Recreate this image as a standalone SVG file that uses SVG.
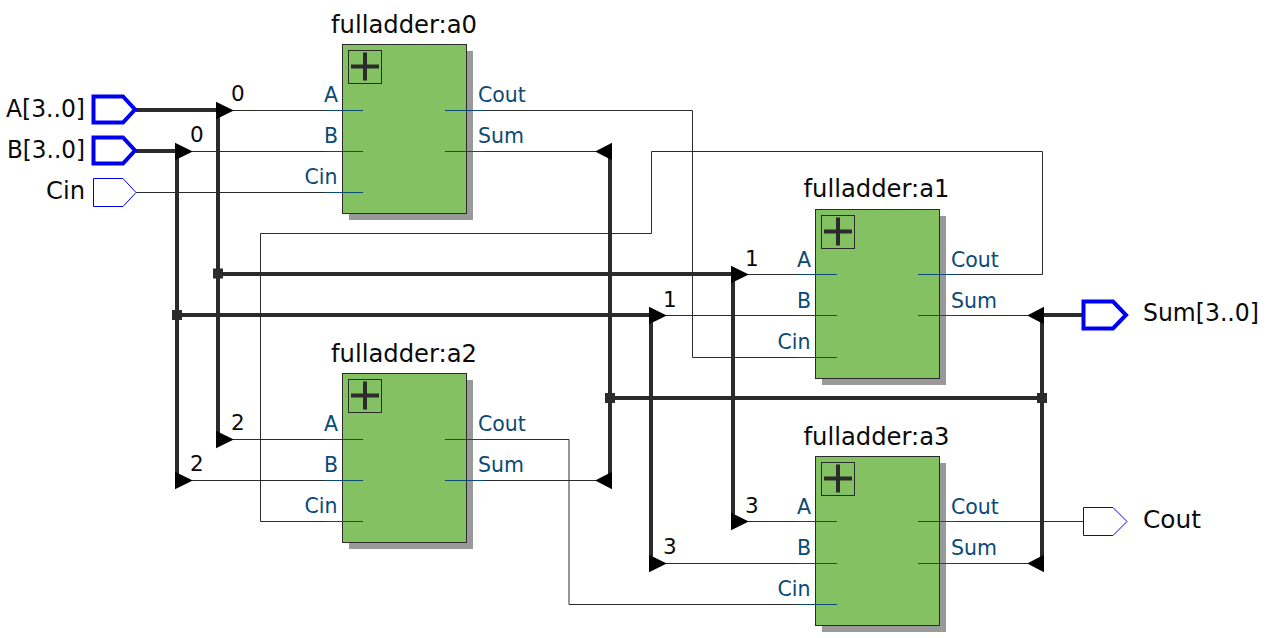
<svg xmlns="http://www.w3.org/2000/svg" width="1267" height="638" viewBox="0 0 1267 638">
<style>
text{font-family:"DejaVu Sans",sans-serif;font-size:21px;fill:#0a0a0a}
.t{font-size:24px}
.io{font-size:24px}
.e{text-anchor:end}
.p{font-size:20.500px;fill:#0b4a75}
.n{font-size:21.500px}
.b{fill:#84c163;stroke:#2b2b2b;stroke-width:1}
.s{fill:#999}
.i{fill:none;stroke:#2b2b2b;stroke-width:1}
.x{fill:#2b2b2b}
.pl{stroke:#0b4a75;stroke-width:1;fill:none}
.w{fill:none;stroke:#2b2b2b;stroke-width:1}
.h{fill:none;stroke:#2b2b2b;stroke-width:4}
.a{fill:#000}
.j{fill:#2b2b2b}
.pb{fill:#fff;stroke:#0000f0;stroke-width:4}
.pt{fill:#fff;stroke:#0000f0;stroke-width:1}
</style>
<defs>
<g id="blk">
<rect class="s" x="7" y="7" width="124" height="169"/>
<rect class="b" x="0.500" y="0.500" width="124" height="169"/>
<rect class="i" x="6.500" y="6.500" width="33" height="33"/>
<rect class="x" x="9" y="20.500" width="28" height="4"/>
<rect class="x" x="21" y="8.500" width="4" height="28"/>
</g>
<path id="ar" class="a" d="M-1-8.800L16.800 0L-1 8.800Z"/>
<path id="al" class="a" d="M0-8.800L-16.800 0L0 8.800Z"/>
</defs>
<g id="connectors">
<path class="w" d="M220 110.500H342M180 151.500H342M136 192.500H342"/>
<path class="w" d="M445 110.500H692.500V357.500H815M445 151.500H600"/>
<path class="w" d="M445 439.500H569V604.500H815M445 480.500H600M362 521.500H260.500V233.500H651.500V151.500H1042.500V274.500H918"/>
<path class="w" d="M735 274.500H815M655 315.500H815M918 315.500H1032"/>
<path class="w" d="M220 439.500H342M180 480.500H342M735 521.500H815M655 563.500H815"/>
<path class="w" d="M918 521.500H1084M918 563.500H1032"/>
<path class="h" d="M136 110H218M218 110V439M136 151H177M177 151V480"/>
<path class="h" d="M218 274H733M733 274V521M177 315H651M651 315V563"/>
<path class="h" d="M610 151V480M610 398H1042M1042 315V563M1042 315H1083"/>
<rect class="j" x="213" y="268.500" width="10" height="10"/>
<rect class="j" x="172" y="310" width="10" height="10"/>
<rect class="j" x="605" y="393" width="10" height="10"/>
<rect class="j" x="1037" y="393" width="10" height="10"/>
<use href="#ar" x="217" y="110.500"/>
<use href="#ar" x="176" y="151.500"/>
<use href="#ar" x="732" y="274.500"/>
<use href="#ar" x="650" y="315.500"/>
<use href="#ar" x="217" y="439.500"/>
<use href="#ar" x="176" y="480.500"/>
<use href="#ar" x="732" y="521.500"/>
<use href="#ar" x="650" y="563.500"/>
<use href="#al" x="612" y="151.500"/>
<use href="#al" x="612" y="480.500"/>
<use href="#al" x="1044" y="315.500"/>
<use href="#al" x="1044" y="563.500"/>
<text class="n" x="231" y="101">0</text>
<text class="n" x="190" y="142">0</text>
<text class="n" x="745" y="266">1</text>
<text class="n" x="663" y="307">1</text>
<text class="n" x="231" y="430">2</text>
<text class="n" x="190" y="471">2</text>
<text class="n" x="745" y="513">3</text>
<text class="n" x="663" y="554">3</text>
</g>
<g id="port-a"><path class="pb" d="M93.500 96.500H123L135 109.500L123 122.500H93.500Z"/><text class="io" x="6" y="116.500" textLength="79" lengthAdjust="spacingAndGlyphs">A[3..0]</text></g>
<g id="port-b"><path class="pb" d="M93.500 137.500H123L135 150.500L123 163.500H93.500Z"/><text class="io" x="7" y="157.500" textLength="78" lengthAdjust="spacingAndGlyphs">B[3..0]</text></g>
<g id="port-cin"><path class="pt" d="M93.500 178.500H123L136 192.500L123 206.500H93.500Z"/><text class="io" x="46" y="198.500" textLength="39" lengthAdjust="spacingAndGlyphs">Cin</text></g>
<g id="port-sum"><path class="pb" d="M1083.500 301.500H1113L1126 315L1113 328.500H1083.500Z"/><text class="io" x="1143" y="321" textLength="116" lengthAdjust="spacingAndGlyphs">Sum[3..0]</text></g>
<g id="port-cout"><path class="pt" d="M1083.500 507.500H1113L1127 521.500L1113 535.500H1083.500Z"/><text class="io" x="1143" y="527.500" textLength="58" lengthAdjust="spacingAndGlyphs">Cout</text></g>
<g id="a0"><use href="#blk" x="342" y="44"/><text class="t" x="331" y="33" textLength="146" lengthAdjust="spacingAndGlyphs">fulladder:a0</text>
<path class="pl" d="M325 110.500H363M325 151.500H363M325 192.500H363M445 110.500H485M445 151.500H485"/>
<text class="p e" x="338" y="101.500">A</text><text class="p e" x="338" y="142.500">B</text><text class="p e" x="337.500" y="183.500">Cin</text>
<text class="p" x="478" y="101.500">Cout</text><text class="p" x="478" y="142.500">Sum</text></g>
<g id="a1"><use href="#blk" x="815" y="209"/><text class="t" x="803.500" y="197" textLength="146" lengthAdjust="spacingAndGlyphs">fulladder:a1</text>
<path class="pl" d="M798 274.500H837M798 315.500H837M798 357.500H837M918 274.500H958M918 315.500H958"/>
<text class="p e" x="811" y="266.500">A</text><text class="p e" x="811" y="307.500">B</text><text class="p e" x="810.500" y="348.500">Cin</text>
<text class="p" x="951" y="266.500">Cout</text><text class="p" x="951" y="307.500">Sum</text></g>
<g id="a2"><use href="#blk" x="342" y="373"/><text class="t" x="331" y="362" textLength="146" lengthAdjust="spacingAndGlyphs">fulladder:a2</text>
<path class="pl" d="M325 439.500H363M325 480.500H363M325 521.500H363M445 439.500H485M445 480.500H485"/>
<text class="p e" x="338" y="430.500">A</text><text class="p e" x="338" y="471.500">B</text><text class="p e" x="337.500" y="512.500">Cin</text>
<text class="p" x="478" y="430.500">Cout</text><text class="p" x="478" y="471.500">Sum</text></g>
<g id="a3"><use href="#blk" x="815" y="456"/><text class="t" x="803.500" y="445" textLength="146" lengthAdjust="spacingAndGlyphs">fulladder:a3</text>
<path class="pl" d="M798 521.500H837M798 563.500H837M798 604.500H837M918 521.500H958M918 563.500H958"/>
<text class="p e" x="811" y="513.500">A</text><text class="p e" x="811" y="554.500">B</text><text class="p e" x="810.500" y="595.500">Cin</text>
<text class="p" x="951" y="513.500">Cout</text><text class="p" x="951" y="554.500">Sum</text></g>
</svg>
